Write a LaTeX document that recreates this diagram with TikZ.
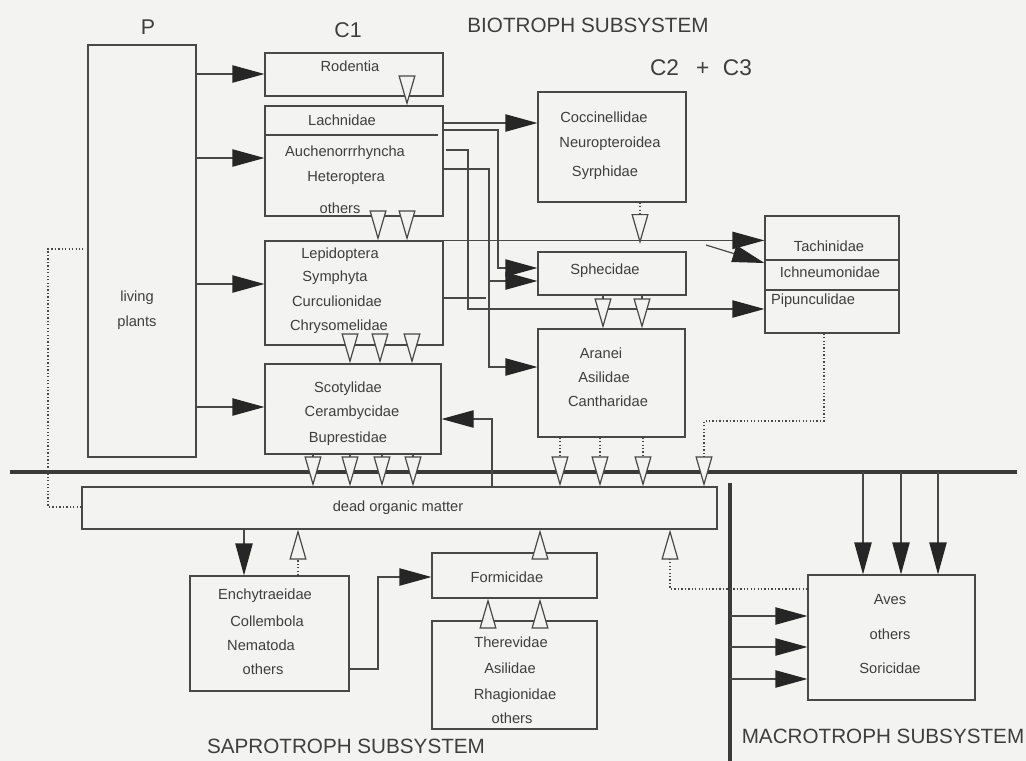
\documentclass[tikz,border=0pt]{standalone}
\usepackage{fontspec}
\setmainfont{Liberation Sans}
\usetikzlibrary{arrows.meta,fit}
\definecolor{bg}{RGB}{243,243,241}
\definecolor{lc}{RGB}{72,72,72}
\definecolor{tipc}{RGB}{38,38,38}
\definecolor{tc}{RGB}{62,62,62}
\begin{document}
\begin{tikzpicture}[x=0.75pt,y=-0.75pt,
  box/.style={draw=lc,line width=0.9pt,inner sep=0pt},
  lbl/.style={text=tc,inner sep=0pt,font=\fontsize{11}{13}\selectfont},
  ttl/.style={text=tc,inner sep=0pt,font=\fontsize{15.5}{18}\selectfont},
  big/.style={text=tc,inner sep=0pt,font=\fontsize{16}{19}\selectfont},
  conn/.style={draw=lc,line width=0.9pt},
  sep/.style={draw=lc!80!black,line width=3pt},
  fa/.style={conn,-{Triangle[length=24pt,width=13pt,color=tipc]}},
  ha/.style={conn,-{Triangle[length=22.5pt,width=12.75pt,fill=bg]}},
  dl/.style={dash pattern=on 1pt off 1.6pt}]
\fill[bg] (0,0) rectangle (1026,761);
\useasboundingbox (0,0) rectangle (1026,761);

% subsystem separators
\coordinate (hl) at (10,472);
\coordinate (hr) at (1017,472);
\coordinate (vt) at (730,483);
\coordinate (vb) at (730,761);
\draw[sep] (hl) -- (hr);
\draw[sep] (vt) -- (vb);

% headings
\node[big] (tP) at (148,27) {P};
\node[big] (tC1) at (348,30) {C1};
\node[ttl] (tBio) at (588,25) {BIOTROPH SUBSYSTEM};
\node[big,font=\fontsize{17}{20}\selectfont] (tC23) at (701,68) {C2\hspace{0.75em}+\hspace{0.6em}C3};
\node[ttl] (tSap) at (346,746) {SAPROTROPH SUBSYSTEM};
\node[ttl] (tMac) at (883,736) {MACROTROPH SUBSYSTEM};

% boxes
\node[box,fit={(88,45) (196,457)}] (P) {};
\node[box,fit={(265,53) (443,96)}] (rod) {};
\node[box,fit={(265,106) (443,216)}] (lach) {};
\node[box,fit={(265,241) (443,345)}] (lepi) {};
\node[box,fit={(265,364) (441,454)}] (scol) {};
\node[box,fit={(538,92) (686,202)}] (cocc) {};
\node[box,fit={(538,252) (686,295)}] (sphe) {};
\node[box,fit={(538,329) (685,437)}] (aran) {};
\node[box,fit={(765,216) (899,333)}] (tach) {};
\node[box,fit={(82,487) (717,529)}] (dom) {};
\node[box,fit={(190,576) (349,691)}] (ench) {};
\node[box,fit={(432,553) (597,598)}] (form) {};
\node[box,fit={(432,621) (597,729)}] (ther) {};
\node[box,fit={(808,575) (975,700)}] (aves) {};

% dividers
\draw[conn] (lach.west |- 0,135) -- (438,135);
\draw[conn] (tach.west |- 0,260) -- (tach.east |- 0,260);
\draw[conn] (tach.west |- 0,290) -- (tach.east |- 0,290);

% labels
\node[lbl] (l1) at (137,298) {living};
\node[lbl] (l2) at (137,323) {plants};
\node[lbl] (r1) at (350,66) {Rodentia};
\node[lbl] (a1) at (342,120) {Lachnidae};
\node[lbl] (a2) at (345,153) {Auchenorrrhyncha};
\node[lbl] (a3) at (346,178) {Heteroptera};
\node[lbl] (a4) at (340,208) {others};
\node[lbl] (b1) at (340,255) {Lepidoptera};
\node[lbl] (b2) at (335,278) {Symphyta};
\node[lbl] (b3) at (337,301) {Curculionidae};
\node[lbl] (b4) at (339,327) {Chrysomelidae};
\node[lbl] (c1) at (348,389) {Scotylidae};
\node[lbl] (c2) at (352,413) {Cerambycidae};
\node[lbl] (c3) at (348,439) {Buprestidae};
\node[lbl] (d1) at (604,117) {Coccinellidae};
\node[lbl] (d2) at (610,144) {Neuropteroidea};
\node[lbl] (d3) at (605,173) {Syrphidae};
\node[lbl] (e1) at (605,271) {Sphecidae};
\node[lbl] (f1) at (601,353) {Aranei};
\node[lbl] (f2) at (604,377) {Asilidae};
\node[lbl] (f3) at (608,401) {Cantharidae};
\node[lbl] (g1) at (829,246) {Tachinidae};
\node[lbl] (g2) at (830,272) {Ichneumonidae};
\node[lbl] (g3) at (813,301) {Pipunculidae};
\node[lbl] (h1) at (398,508) {dead organic matter};
\node[lbl] (i1) at (265,596) {Enchytraeidae};
\node[lbl] (i2) at (267,621) {Collembola};
\node[lbl] (i3) at (261,645) {Nematoda};
\node[lbl] (i4) at (263,669) {others};
\node[lbl] (j1) at (507,577) {Formicidae};
\node[lbl] (k1) at (511,642) {Therevidae};
\node[lbl] (k2) at (510,668) {Asilidae};
\node[lbl] (k3) at (515,696) {Rhagionidae};
\node[lbl] (k4) at (512,718) {others};
\node[lbl] (m1) at (890,600) {Aves};
\node[lbl] (m2) at (890,634) {others};
\node[lbl] (m3) at (890,668) {Soricidae};

% plants -> C1
\draw[fa] (P.east |- 0,74) -- (rod.west |- 0,74);
\draw[fa] (P.east |- 0,158) -- (lach.west |- 0,158);
\draw[fa] (P.east |- 0,284) -- (lepi.west |- 0,284);
\draw[fa] (P.east |- 0,407) -- (scol.west |- 0,407);

% C1 -> C2+C3
\draw[fa] (lach.east |- 0,123) -- (cocc.west |- 0,123);
\draw[fa] (lach.east |- 0,130) -- (498,130) -- (498,268) -- (sphe.west |- 0,268);
\draw[fa] (lach.east |- 0,150) ++(2,0) -- (468,150) -- (468,309) -- (tach.west |- 0,309);
\draw[fa] (lach.east |- 0,169) -- (489,169) -- (489,367) -- (aran.west |- 0,367);
\draw[fa] (489,281) -- (sphe.west |- 0,281);
\draw[conn] (lepi.east |- 0,298) -- (486,298);
\draw[fa] (lepi.north east) -- (tach.west |- lepi.north east);
\coordinate (dg) at (706,245);
\draw[fa] (dg) -- (tach.west |- 0,263);

% dead organic matter -> Scotylidae
\draw[fa] (dom.north -| 492,0) -- (492,419) -- (scol.east |- 0,419);

% saprotroph flows
\draw[fa] (dom.south -| 244,0) -- (ench.north -| 244,0);
\draw[fa] (ench.east |- 0,669) -- (378,669) -- (378,577) -- (form.west |- 0,577);

% macrotroph inputs
\draw[fa] (hl -| 863,0) -- (aves.north -| 863,0);
\draw[fa] (hl -| 901,0) -- (aves.north -| 901,0);
\draw[fa] (hl -| 938,0) -- (aves.north -| 938,0);
\draw[fa] (vt |- 0,616) -- (aves.west |- 0,616);
\draw[fa] (vt |- 0,647) -- (aves.west |- 0,647);
\draw[fa] (vt |- 0,679) -- (aves.west |- 0,679);

% dotted: dead organic matter -- plants
\draw[conn,dl] (dom.west |- 0,507) -- (48,507) -- (48,249) -- (83,249);

% hollow (dead matter) arrows
\draw[ha] (rod.south -| 407,0) -- (lach.north -| 407,0);
\draw[ha] (lach.south -| 378,0) -- (lepi.north -| 378,0);
\draw[ha] (lach.south -| 407,0) -- (lepi.north -| 407,0);
\draw[ha] (lepi.south -| 350,0) -- (scol.north -| 350,0);
\draw[ha] (lepi.south -| 380,0) -- (scol.north -| 380,0);
\draw[ha] (lepi.south -| 412,0) -- (scol.north -| 412,0);
\draw[ha] (scol.south -| 313,0) -- (dom.north -| 313,0);
\draw[ha] (scol.south -| 350,0) -- (dom.north -| 350,0);
\draw[ha] (scol.south -| 382,0) -- (dom.north -| 382,0);
\draw[ha] (scol.south -| 413,0) -- (dom.north -| 413,0);
\draw[ha,dl] (cocc.south -| 640,0) -- (640,244);
\draw[ha] (sphe.south -| 603,0) -- (aran.north -| 603,0);
\draw[ha] (sphe.south -| 642,0) -- (aran.north -| 642,0);
\draw[ha,dl] (aran.south -| 560,0) -- (dom.north -| 560,0);
\draw[ha,dl] (aran.south -| 600,0) -- (dom.north -| 600,0);
\draw[ha,dl] (aran.south -| 643,0) -- (dom.north -| 643,0);
\draw[ha,dl] (tach.south -| 824,0) -- (824,421) -- (704,421) -- (dom.north -| 704,0);
\draw[ha,dl] (ench.north -| 298,0) -- (dom.south -| 298,0);
\draw[ha] (form.north -| 540,0) -- (dom.south -| 540,0);
\draw[ha] (ther.north -| 488,0) -- (form.south -| 488,0);
\draw[ha] (ther.north -| 540,0) -- (form.south -| 540,0);
\draw[ha,dl] (aves.west |- 0,589) -- (670,589) -- (dom.south -| 670,0);
\end{tikzpicture}
\end{document}
